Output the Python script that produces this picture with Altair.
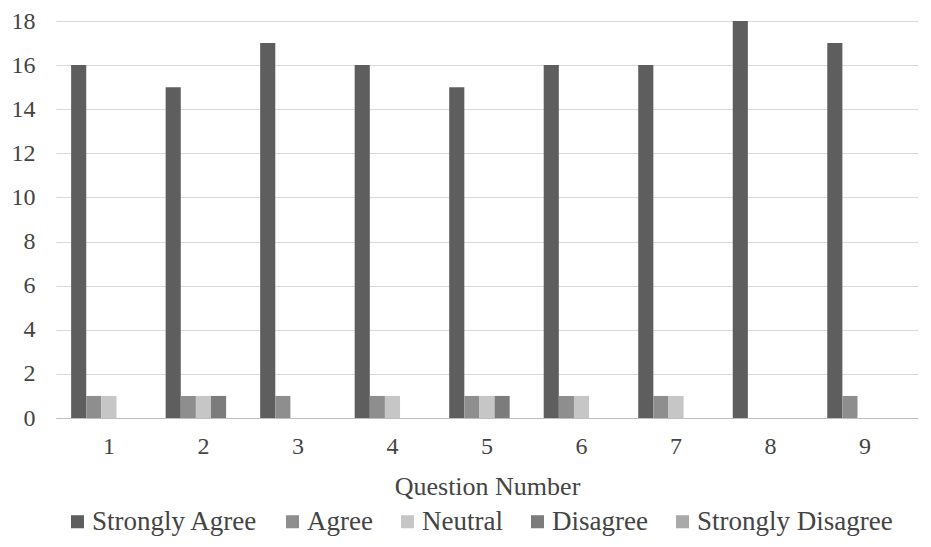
import altair as alt
import pandas as pd

questions = ["1", "2", "3", "4", "5", "6", "7", "8", "9"]
series = ["Strongly Agree", "Agree", "Neutral", "Disagree", "Strongly Disagree"]
strongly_agree = [16, 15, 17, 16, 15, 16, 16, 18, 17]
agree = [1, 1, 1, 1, 1, 1, 1, 0, 1]
neutral = [1, 1, 0, 1, 1, 1, 1, 0, 0]
disagree = [0, 1, 0, 0, 1, 0, 0, 0, 0]
strongly_disagree = [0, 0, 0, 0, 0, 0, 0, 0, 0]
colors = ["#5e5e5e", "#8e8e8e", "#c6c6c6", "#7c7c7c", "#a9a9a9"]

vals = [strongly_agree, agree, neutral, disagree, strongly_disagree]
rows = []
for s, v in zip(series, vals):
    for q, val in zip(questions, v):
        rows.append({"Question": q, "Response": s, "Count": val})
df = pd.DataFrame(rows)

font = "Liberation Serif"

chart = alt.Chart(df).mark_bar().encode(
    x=alt.X("Question:N", sort=questions,
            scale=alt.Scale(paddingInner=0.2, paddingOuter=0.16),
            axis=alt.Axis(title="Question Number", labelAngle=0, ticks=False,
                          domainColor="#bfbfbf", labelPadding=16, titlePadding=15)),
    xOffset=alt.XOffset("Response:N", sort=series),
    y=alt.Y("Count:Q", scale=alt.Scale(domain=[0, 18], nice=False),
            axis=alt.Axis(title=None, values=list(range(0, 19, 2)), domain=False,
                          ticks=False, labelPadding=21, gridColor="#d9d9d9")),
    color=alt.Color("Response:N", sort=series,
                    scale=alt.Scale(domain=series, range=colors),
                    legend=alt.Legend(title=None, orient="none", direction="horizontal",
                                      legendX=8, legendY=487, symbolType="square",
                                      symbolSize=170, columnPadding=21, labelLimit=400,
                                      labelOffset=1, padding=0,
                                      symbolStrokeWidth=0)),
).properties(
    width=862, height=397,
    autosize=alt.AutoSizeParams(type="none"),
    padding={"left": 48, "top": 13, "right": 5, "bottom": 119},
).configure_view(stroke=None).configure_axis(
    labelFont=font, titleFont=font, labelFontSize=24, titleFontSize=26,
    labelColor="#444444", titleColor="#444444", titleFontWeight="normal"
).configure_legend(
    labelFont=font, labelFontSize=27, labelColor="#444444"
)

chart.save("out.html", embed_options={"renderer": "svg", "actions": False})
